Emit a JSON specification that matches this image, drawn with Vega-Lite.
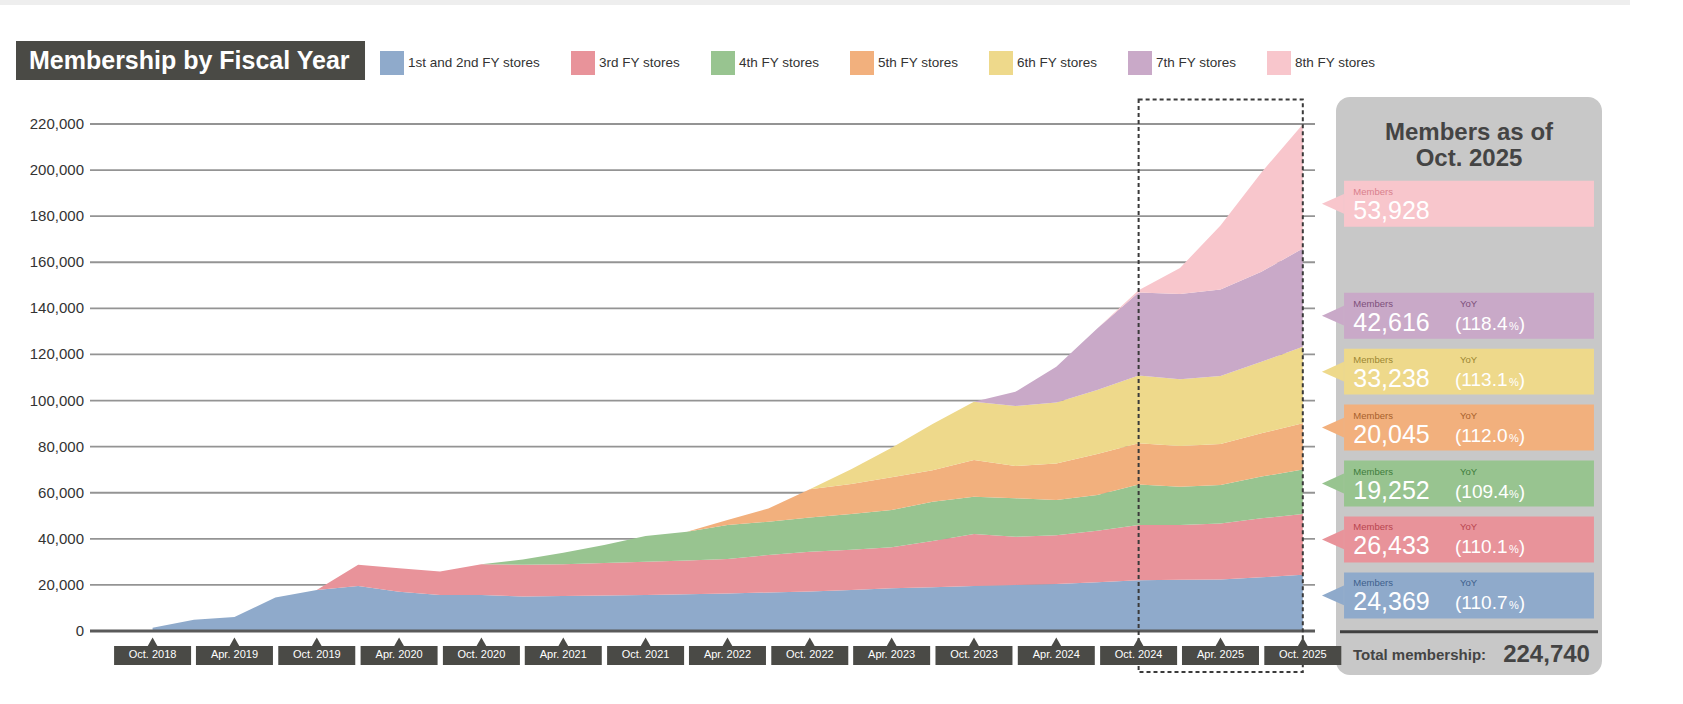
{
  "$schema": "https://vega.github.io/schema/vega-lite/v6.json",
  "width": 1225,
  "height": 507,
  "autosize": {"type": "none"},
  "padding": {"left": 90, "top": 124, "right": 368, "bottom": 73},
  "background": "#ffffff",
  "config": {"view": {"stroke": null}, "font": "Liberation Sans"},
  "datasets": {
    "members": [
      {"series": "1st and 2nd FY stores", "date": "2018-10-01", "members": 1400},
      {"series": "1st and 2nd FY stores", "date": "2019-01-01", "members": 4900},
      {"series": "1st and 2nd FY stores", "date": "2019-04-01", "members": 6100},
      {"series": "1st and 2nd FY stores", "date": "2019-07-01", "members": 14500},
      {"series": "1st and 2nd FY stores", "date": "2019-10-01", "members": 17800},
      {"series": "1st and 2nd FY stores", "date": "2020-01-01", "members": 19500},
      {"series": "1st and 2nd FY stores", "date": "2020-04-01", "members": 17000},
      {"series": "1st and 2nd FY stores", "date": "2020-07-01", "members": 15600},
      {"series": "1st and 2nd FY stores", "date": "2020-10-01", "members": 15600},
      {"series": "1st and 2nd FY stores", "date": "2021-01-01", "members": 15000},
      {"series": "1st and 2nd FY stores", "date": "2021-04-01", "members": 15200},
      {"series": "1st and 2nd FY stores", "date": "2021-07-01", "members": 15400},
      {"series": "1st and 2nd FY stores", "date": "2021-10-01", "members": 15600},
      {"series": "1st and 2nd FY stores", "date": "2022-01-01", "members": 16000},
      {"series": "1st and 2nd FY stores", "date": "2022-04-01", "members": 16300},
      {"series": "1st and 2nd FY stores", "date": "2022-07-01", "members": 16700},
      {"series": "1st and 2nd FY stores", "date": "2022-10-01", "members": 17100},
      {"series": "1st and 2nd FY stores", "date": "2023-01-01", "members": 17800},
      {"series": "1st and 2nd FY stores", "date": "2023-04-01", "members": 18500},
      {"series": "1st and 2nd FY stores", "date": "2023-07-01", "members": 19000},
      {"series": "1st and 2nd FY stores", "date": "2023-10-01", "members": 19500},
      {"series": "1st and 2nd FY stores", "date": "2024-01-01", "members": 20000},
      {"series": "1st and 2nd FY stores", "date": "2024-04-01", "members": 20400},
      {"series": "1st and 2nd FY stores", "date": "2024-07-01", "members": 21200},
      {"series": "1st and 2nd FY stores", "date": "2024-10-01", "members": 22014},
      {"series": "1st and 2nd FY stores", "date": "2025-01-01", "members": 22200},
      {"series": "1st and 2nd FY stores", "date": "2025-04-01", "members": 22400},
      {"series": "1st and 2nd FY stores", "date": "2025-07-01", "members": 23300},
      {"series": "1st and 2nd FY stores", "date": "2025-10-01", "members": 24369},
      {"series": "3rd FY stores", "date": "2019-10-01", "members": 0},
      {"series": "3rd FY stores", "date": "2020-01-01", "members": 9200},
      {"series": "3rd FY stores", "date": "2020-04-01", "members": 10200},
      {"series": "3rd FY stores", "date": "2020-07-01", "members": 10200},
      {"series": "3rd FY stores", "date": "2020-10-01", "members": 13400},
      {"series": "3rd FY stores", "date": "2021-01-01", "members": 13800},
      {"series": "3rd FY stores", "date": "2021-04-01", "members": 13800},
      {"series": "3rd FY stores", "date": "2021-07-01", "members": 14100},
      {"series": "3rd FY stores", "date": "2021-10-01", "members": 14400},
      {"series": "3rd FY stores", "date": "2022-01-01", "members": 14600},
      {"series": "3rd FY stores", "date": "2022-04-01", "members": 14900},
      {"series": "3rd FY stores", "date": "2022-07-01", "members": 16300},
      {"series": "3rd FY stores", "date": "2022-10-01", "members": 17300},
      {"series": "3rd FY stores", "date": "2023-01-01", "members": 17500},
      {"series": "3rd FY stores", "date": "2023-04-01", "members": 17800},
      {"series": "3rd FY stores", "date": "2023-07-01", "members": 20000},
      {"series": "3rd FY stores", "date": "2023-10-01", "members": 22600},
      {"series": "3rd FY stores", "date": "2024-01-01", "members": 20900},
      {"series": "3rd FY stores", "date": "2024-04-01", "members": 21200},
      {"series": "3rd FY stores", "date": "2024-07-01", "members": 22300},
      {"series": "3rd FY stores", "date": "2024-10-01", "members": 24008},
      {"series": "3rd FY stores", "date": "2025-01-01", "members": 23800},
      {"series": "3rd FY stores", "date": "2025-04-01", "members": 24300},
      {"series": "3rd FY stores", "date": "2025-07-01", "members": 25600},
      {"series": "3rd FY stores", "date": "2025-10-01", "members": 26433},
      {"series": "4th FY stores", "date": "2020-10-01", "members": 0},
      {"series": "4th FY stores", "date": "2021-01-01", "members": 2200},
      {"series": "4th FY stores", "date": "2021-04-01", "members": 5000},
      {"series": "4th FY stores", "date": "2021-07-01", "members": 7800},
      {"series": "4th FY stores", "date": "2021-10-01", "members": 11200},
      {"series": "4th FY stores", "date": "2022-01-01", "members": 12500},
      {"series": "4th FY stores", "date": "2022-04-01", "members": 14800},
      {"series": "4th FY stores", "date": "2022-07-01", "members": 14400},
      {"series": "4th FY stores", "date": "2022-10-01", "members": 14900},
      {"series": "4th FY stores", "date": "2023-01-01", "members": 15500},
      {"series": "4th FY stores", "date": "2023-04-01", "members": 16200},
      {"series": "4th FY stores", "date": "2023-07-01", "members": 17100},
      {"series": "4th FY stores", "date": "2023-10-01", "members": 16200},
      {"series": "4th FY stores", "date": "2024-01-01", "members": 16700},
      {"series": "4th FY stores", "date": "2024-04-01", "members": 15200},
      {"series": "4th FY stores", "date": "2024-07-01", "members": 15500},
      {"series": "4th FY stores", "date": "2024-10-01", "members": 17598},
      {"series": "4th FY stores", "date": "2025-01-01", "members": 16600},
      {"series": "4th FY stores", "date": "2025-04-01", "members": 16600},
      {"series": "4th FY stores", "date": "2025-07-01", "members": 18100},
      {"series": "4th FY stores", "date": "2025-10-01", "members": 19252},
      {"series": "5th FY stores", "date": "2022-01-01", "members": 0},
      {"series": "5th FY stores", "date": "2022-04-01", "members": 2200},
      {"series": "5th FY stores", "date": "2022-07-01", "members": 5800},
      {"series": "5th FY stores", "date": "2022-10-01", "members": 12200},
      {"series": "5th FY stores", "date": "2023-01-01", "members": 13000},
      {"series": "5th FY stores", "date": "2023-04-01", "members": 14200},
      {"series": "5th FY stores", "date": "2023-07-01", "members": 13700},
      {"series": "5th FY stores", "date": "2023-10-01", "members": 15900},
      {"series": "5th FY stores", "date": "2024-01-01", "members": 14000},
      {"series": "5th FY stores", "date": "2024-04-01", "members": 15900},
      {"series": "5th FY stores", "date": "2024-07-01", "members": 17800},
      {"series": "5th FY stores", "date": "2024-10-01", "members": 17897},
      {"series": "5th FY stores", "date": "2025-01-01", "members": 17700},
      {"series": "5th FY stores", "date": "2025-04-01", "members": 17800},
      {"series": "5th FY stores", "date": "2025-07-01", "members": 18800},
      {"series": "5th FY stores", "date": "2025-10-01", "members": 20045},
      {"series": "6th FY stores", "date": "2022-10-01", "members": 0},
      {"series": "6th FY stores", "date": "2023-01-01", "members": 6400},
      {"series": "6th FY stores", "date": "2023-04-01", "members": 12800},
      {"series": "6th FY stores", "date": "2023-07-01", "members": 20000},
      {"series": "6th FY stores", "date": "2023-10-01", "members": 25300},
      {"series": "6th FY stores", "date": "2024-01-01", "members": 26000},
      {"series": "6th FY stores", "date": "2024-04-01", "members": 26400},
      {"series": "6th FY stores", "date": "2024-07-01", "members": 27800},
      {"series": "6th FY stores", "date": "2024-10-01", "members": 29388},
      {"series": "6th FY stores", "date": "2025-01-01", "members": 28900},
      {"series": "6th FY stores", "date": "2025-04-01", "members": 29500},
      {"series": "6th FY stores", "date": "2025-07-01", "members": 31000},
      {"series": "6th FY stores", "date": "2025-10-01", "members": 33238},
      {"series": "7th FY stores", "date": "2023-10-01", "members": 0},
      {"series": "7th FY stores", "date": "2024-01-01", "members": 6200},
      {"series": "7th FY stores", "date": "2024-04-01", "members": 15600},
      {"series": "7th FY stores", "date": "2024-07-01", "members": 26700},
      {"series": "7th FY stores", "date": "2024-10-01", "members": 35993},
      {"series": "7th FY stores", "date": "2025-01-01", "members": 37000},
      {"series": "7th FY stores", "date": "2025-04-01", "members": 37600},
      {"series": "7th FY stores", "date": "2025-07-01", "members": 39100},
      {"series": "7th FY stores", "date": "2025-10-01", "members": 42616},
      {"series": "8th FY stores", "date": "2024-10-01", "members": 1000},
      {"series": "8th FY stores", "date": "2025-01-01", "members": 11300},
      {"series": "8th FY stores", "date": "2025-04-01", "members": 27800},
      {"series": "8th FY stores", "date": "2025-07-01", "members": 43100},
      {"series": "8th FY stores", "date": "2025-10-01", "members": 53928}
    ],
    "gridValues": [
      {"v": 0}, {"v": 20000}, {"v": 40000}, {"v": 60000}, {"v": 80000}, {"v": 100000},
      {"v": 120000}, {"v": 140000}, {"v": 160000}, {"v": 180000}, {"v": 200000}, {"v": 220000}
    ],
    "ticks": [
      {"date": "2018-10-01", "label": "Oct. 2018"},
      {"date": "2019-04-01", "label": "Apr. 2019"},
      {"date": "2019-10-01", "label": "Oct. 2019"},
      {"date": "2020-04-01", "label": "Apr. 2020"},
      {"date": "2020-10-01", "label": "Oct. 2020"},
      {"date": "2021-04-01", "label": "Apr. 2021"},
      {"date": "2021-10-01", "label": "Oct. 2021"},
      {"date": "2022-04-01", "label": "Apr. 2022"},
      {"date": "2022-10-01", "label": "Oct. 2022"},
      {"date": "2023-04-01", "label": "Apr. 2023"},
      {"date": "2023-10-01", "label": "Oct. 2023"},
      {"date": "2024-04-01", "label": "Apr. 2024"},
      {"date": "2024-10-01", "label": "Oct. 2024"},
      {"date": "2025-04-01", "label": "Apr. 2025"},
      {"date": "2025-10-01", "label": "Oct. 2025"}
    ],
    "tiles": [
      {"series": "8th FY stores", "members": 53928},
      {"series": "7th FY stores", "members": 42616, "yoy": 118.4},
      {"series": "6th FY stores", "members": 33238, "yoy": 113.1},
      {"series": "5th FY stores", "members": 20045, "yoy": 112.0},
      {"series": "4th FY stores", "members": 19252, "yoy": 109.4},
      {"series": "3rd FY stores", "members": 26433, "yoy": 110.1},
      {"series": "1st and 2nd FY stores", "members": 24369, "yoy": 110.7}
    ]
  },
  "layer": [
    {
      "data": {"values": [{"total": 224740}]},
      "layer": [
        {"mark": {"type": "rect", "color": "#eeeeee"},
         "encoding": {
           "x": {"datum": 0, "type": "quantitative", "scale": {"domain": [0, 100], "range": [-90, 1593], "nice": false, "zero": false}, "axis": null},
           "x2": {"datum": 96.85},
           "y": {"datum": 0, "type": "quantitative", "scale": {"domain": [0, 100], "range": [-124, 580], "nice": false, "zero": false}, "axis": null},
           "y2": {"datum": 0.71}}},
        {"mark": {"type": "rect", "color": "#4a4a45"},
         "encoding": {
           "x": {"datum": 0.951, "type": "quantitative", "scale": {"domain": [0, 100], "range": [-90, 1593], "nice": false, "zero": false}, "axis": null},
           "x2": {"datum": 21.688},
           "y": {"datum": 5.824, "type": "quantitative", "scale": {"domain": [0, 100], "range": [-124, 580], "nice": false, "zero": false}, "axis": null},
           "y2": {"datum": 11.364}}},
        {"mark": {"type": "text", "text": "Membership by Fiscal Year", "align": "left", "baseline": "middle", "fontSize": 25, "fontWeight": "bold", "color": "#ffffff"},
         "encoding": {
           "x": {"datum": 1.723, "type": "quantitative", "scale": {"domain": [0, 100], "range": [-90, 1593], "nice": false, "zero": false}, "axis": null},
           "y": {"datum": 8.594, "type": "quantitative", "scale": {"domain": [0, 100], "range": [-124, 580], "nice": false, "zero": false}, "axis": null}}},
        {"mark": {"type": "rect", "color": "#c8c8c8", "cornerRadius": 14},
         "encoding": {
           "x": {"datum": 79.382, "type": "quantitative", "scale": {"domain": [0, 100], "range": [-90, 1593], "nice": false, "zero": false}, "axis": null},
           "x2": {"datum": 95.187},
           "y": {"datum": 13.778, "type": "quantitative", "scale": {"domain": [0, 100], "range": [-124, 580], "nice": false, "zero": false}, "axis": null},
           "y2": {"datum": 95.881}}},
        {"mark": {"type": "text", "text": "Members as of", "align": "center", "baseline": "middle", "fontSize": 24, "fontWeight": "bold", "color": "#444444"},
         "encoding": {
           "x": {"datum": 87.285, "type": "quantitative", "scale": {"domain": [0, 100], "range": [-90, 1593], "nice": false, "zero": false}, "axis": null},
           "y": {"datum": 18.849, "type": "quantitative", "scale": {"domain": [0, 100], "range": [-124, 580], "nice": false, "zero": false}, "axis": null}}},
        {"mark": {"type": "text", "text": "Oct. 2025", "align": "center", "baseline": "middle", "fontSize": 24, "fontWeight": "bold", "color": "#444444"},
         "encoding": {
           "x": {"datum": 87.285, "type": "quantitative", "scale": {"domain": [0, 100], "range": [-90, 1593], "nice": false, "zero": false}, "axis": null},
           "y": {"datum": 22.628, "type": "quantitative", "scale": {"domain": [0, 100], "range": [-124, 580], "nice": false, "zero": false}, "axis": null}}},
        {"mark": {"type": "rule", "color": "#404040", "strokeWidth": 3},
         "encoding": {
           "x": {"datum": 79.62, "type": "quantitative", "scale": {"domain": [0, 100], "range": [-90, 1593], "nice": false, "zero": false}, "axis": null},
           "x2": {"datum": 94.95},
           "y": {"datum": 89.73, "type": "quantitative", "scale": {"domain": [0, 100], "range": [-124, 580], "nice": false, "zero": false}, "axis": null}}},
        {"mark": {"type": "text", "text": "Total membership:", "align": "left", "baseline": "middle", "fontSize": 15, "fontWeight": "bold", "color": "#444444"},
         "encoding": {
           "x": {"datum": 80.39, "type": "quantitative", "scale": {"domain": [0, 100], "range": [-90, 1593], "nice": false, "zero": false}, "axis": null},
           "y": {"datum": 93.04, "type": "quantitative", "scale": {"domain": [0, 100], "range": [-124, 580], "nice": false, "zero": false}, "axis": null}}},
        {"mark": {"type": "text", "align": "right", "baseline": "middle", "fontSize": 24, "fontWeight": "bold", "color": "#444444"},
         "encoding": {
           "x": {"datum": 94.47, "type": "quantitative", "scale": {"domain": [0, 100], "range": [-90, 1593], "nice": false, "zero": false}, "axis": null},
           "y": {"datum": 93.04, "type": "quantitative", "scale": {"domain": [0, 100], "range": [-124, 580], "nice": false, "zero": false}, "axis": null},
           "text": {"field": "total", "type": "quantitative", "format": ","}}}
      ]
    },
    {
      "layer": [
        {"data": {"name": "gridValues"},
         "mark": {"type": "rule", "color": "#949494", "strokeWidth": 1.8},
         "encoding": {
           "y": {"field": "v", "type": "quantitative", "scale": {"domain": [0, 220000], "nice": false, "zero": false}, "axis": null}}},
        {"data": {"name": "gridValues"},
         "mark": {"type": "text", "align": "right", "baseline": "middle", "dx": -11, "fontSize": 15, "color": "#333333"},
         "encoding": {
           "x": {"datum": {"year": 2018, "month": 5, "date": 26, "utc": true}, "type": "temporal", "scale": {"domain": [{"year": 2018, "month": 5, "date": 26, "utc": true}, {"year": 2025, "month": 10, "date": 17, "utc": true}], "nice": false}, "axis": null},
           "y": {"field": "v", "type": "quantitative", "scale": {"domain": [0, 220000], "nice": false, "zero": false}, "axis": null},
           "text": {"field": "v", "type": "quantitative", "format": ",d"}}},
        {"data": {"name": "members"},
         "mark": {"type": "area", "interpolate": "linear", "opacity": 1},
         "encoding": {
           "x": {"field": "date", "type": "temporal", "scale": {"domain": [{"year": 2018, "month": 5, "date": 26, "utc": true}, {"year": 2025, "month": 10, "date": 17, "utc": true}], "nice": false}, "axis": null},
           "y": {"field": "members", "type": "quantitative", "stack": "zero", "scale": {"domain": [0, 220000], "nice": false, "zero": false}, "axis": null},
           "color": {"field": "series", "type": "nominal",
                     "scale": {"domain": ["1st and 2nd FY stores", "3rd FY stores", "4th FY stores", "5th FY stores", "6th FY stores", "7th FY stores", "8th FY stores"],
                               "range": ["#8faacb", "#e8939a", "#98c490", "#f2b07d", "#eed98b", "#c9a9c8", "#f8c6cc"]},
                     "legend": {"title": null, "orient": "none", "legendX": 290, "legendY": -73, "direction": "horizontal", "columns": 7, "symbolType": "square", "symbolSize": 576, "symbolStrokeWidth": 0, "symbolOpacity": 1, "labelFontSize": 13.5, "labelColor": "#333333", "labelOffset": 4, "columnPadding": 30, "padding": 0}},
           "order": {"field": "series", "sort": "ascending"}
         }},
        {"data": {"values": [{}]},
         "mark": {"type": "rule", "color": "#5a5a5a", "strokeWidth": 3},
         "encoding": {
           "y": {"datum": 0, "type": "quantitative", "scale": {"domain": [0, 220000], "nice": false, "zero": false}, "axis": null}}},
        {"data": {"values": [{"start": "2024-10-01", "end": "2025-10-01"}]},
         "mark": {"type": "rect", "filled": false, "stroke": "#3a3a3a", "strokeWidth": 2, "strokeDash": [4, 3]},
         "encoding": {
           "x": {"field": "start", "type": "temporal", "scale": {"domain": [{"year": 2018, "month": 5, "date": 26, "utc": true}, {"year": 2025, "month": 10, "date": 17, "utc": true}], "nice": false}, "axis": null},
           "x2": {"field": "end"},
           "y": {"datum": 230634, "type": "quantitative", "scale": {"domain": [0, 220000], "nice": false, "zero": false}, "axis": null},
           "y2": {"datum": -17791}}},
        {"data": {"name": "ticks"},
         "mark": {"type": "bar", "width": 77, "color": "#4a4a46"},
         "encoding": {
           "x": {"field": "date", "type": "temporal", "scale": {"domain": [{"year": 2018, "month": 5, "date": 26, "utc": true}, {"year": 2025, "month": 10, "date": 17, "utc": true}], "nice": false}, "axis": null},
           "y": {"datum": -6509, "type": "quantitative", "scale": {"domain": [0, 220000], "nice": false, "zero": false}, "axis": null},
           "y2": {"datum": -14754}}},
        {"data": {"name": "ticks"},
         "mark": {"type": "point", "shape": "triangle-up", "size": 130, "filled": true, "color": "#4a4a46", "opacity": 1, "strokeWidth": 0},
         "encoding": {
           "x": {"field": "date", "type": "temporal", "scale": {"domain": [{"year": 2018, "month": 5, "date": 26, "utc": true}, {"year": 2025, "month": 10, "date": 17, "utc": true}], "nice": false}, "axis": null},
           "y": {"datum": -4990, "type": "quantitative", "scale": {"domain": [0, 220000], "nice": false, "zero": false}, "axis": null}}},
        {"data": {"name": "ticks"},
         "mark": {"type": "text", "color": "#ffffff", "fontSize": 11, "align": "center", "baseline": "middle"},
         "encoding": {
           "x": {"field": "date", "type": "temporal", "scale": {"domain": [{"year": 2018, "month": 5, "date": 26, "utc": true}, {"year": 2025, "month": 10, "date": 17, "utc": true}], "nice": false}, "axis": null},
           "y": {"datum": -10631, "type": "quantitative", "scale": {"domain": [0, 220000], "nice": false, "zero": false}, "axis": null},
           "text": {"field": "label", "type": "nominal"}}}
      ]
    },
    {
      "data": {"name": "tiles"},
      "layer": [
        {"mark": {"type": "rect"},
         "encoding": {
           "x": {"datum": 79.86, "type": "quantitative", "scale": {"domain": [0, 100], "range": [-90, 1593], "nice": false, "zero": false}, "axis": null},
           "x2": {"datum": 94.71},
           "y": {"field": "series", "type": "nominal", "scale": {"domain": ["8th FY stores", " ", "7th FY stores", "6th FY stores", "5th FY stores", "4th FY stores", "3rd FY stores", "1st and 2nd FY stores"], "range": [56.8, 494.4], "paddingInner": 0.178, "paddingOuter": 0}, "axis": null},
           "color": {"field": "series", "type": "nominal", "scale": {"domain": ["1st and 2nd FY stores", "3rd FY stores", "4th FY stores", "5th FY stores", "6th FY stores", "7th FY stores", "8th FY stores"], "range": ["#8faacb", "#e8939a", "#98c490", "#f2b07d", "#eed98b", "#c9a9c8", "#f8c6cc"]}, "legend": null}}},
        {"mark": {"type": "point", "shape": "M-1,0L1,-0.9L1,0.9Z", "size": 484, "filled": true, "opacity": 1, "strokeWidth": 0},
         "encoding": {
           "x": {"datum": 79.2, "type": "quantitative", "scale": {"domain": [0, 100], "range": [-90, 1593], "nice": false, "zero": false}, "axis": null},
           "y": {"field": "series", "type": "nominal", "scale": {"domain": ["8th FY stores", " ", "7th FY stores", "6th FY stores", "5th FY stores", "4th FY stores", "3rd FY stores", "1st and 2nd FY stores"], "range": [56.8, 494.4], "paddingInner": 0.178, "paddingOuter": 0}, "axis": null},
           "color": {"field": "series", "type": "nominal", "scale": {"domain": ["1st and 2nd FY stores", "3rd FY stores", "4th FY stores", "5th FY stores", "6th FY stores", "7th FY stores", "8th FY stores"], "range": ["#8faacb", "#e8939a", "#98c490", "#f2b07d", "#eed98b", "#c9a9c8", "#f8c6cc"]}, "legend": null}}},
        {"mark": {"type": "text", "text": "Members", "align": "left", "baseline": "middle", "fontSize": 9.5, "dy": -12},
         "encoding": {
           "x": {"datum": 80.41, "type": "quantitative", "scale": {"domain": [0, 100], "range": [-90, 1593], "nice": false, "zero": false}, "axis": null},
           "y": {"field": "series", "type": "nominal", "scale": {"domain": ["8th FY stores", " ", "7th FY stores", "6th FY stores", "5th FY stores", "4th FY stores", "3rd FY stores", "1st and 2nd FY stores"], "range": [56.8, 494.4], "paddingInner": 0.178, "paddingOuter": 0}, "axis": null},
           "fill": {"field": "series", "type": "nominal", "scale": {"domain": ["1st and 2nd FY stores", "3rd FY stores", "4th FY stores", "5th FY stores", "6th FY stores", "7th FY stores", "8th FY stores"], "range": ["#3e5f8c", "#b8454f", "#3f7c3c", "#a8602c", "#9c8632", "#7d4f7b", "#d9808c"]}, "legend": null}}},
        {"mark": {"type": "text", "align": "left", "baseline": "alphabetic", "fontSize": 25, "dy": 15, "color": "#ffffff"},
         "encoding": {
           "x": {"datum": 80.41, "type": "quantitative", "scale": {"domain": [0, 100], "range": [-90, 1593], "nice": false, "zero": false}, "axis": null},
           "y": {"field": "series", "type": "nominal", "scale": {"domain": ["8th FY stores", " ", "7th FY stores", "6th FY stores", "5th FY stores", "4th FY stores", "3rd FY stores", "1st and 2nd FY stores"], "range": [56.8, 494.4], "paddingInner": 0.178, "paddingOuter": 0}, "axis": null},
           "text": {"field": "members", "type": "quantitative", "format": ","}}},
        {"transform": [{"filter": "isValid(datum.yoy)"}],
         "mark": {"type": "text", "text": "YoY", "align": "left", "baseline": "middle", "fontSize": 9.5, "dy": -12},
         "encoding": {
           "x": {"datum": 86.75, "type": "quantitative", "scale": {"domain": [0, 100], "range": [-90, 1593], "nice": false, "zero": false}, "axis": null},
           "y": {"field": "series", "type": "nominal", "scale": {"domain": ["8th FY stores", " ", "7th FY stores", "6th FY stores", "5th FY stores", "4th FY stores", "3rd FY stores", "1st and 2nd FY stores"], "range": [56.8, 494.4], "paddingInner": 0.178, "paddingOuter": 0}, "axis": null},
           "fill": {"field": "series", "type": "nominal", "scale": {"domain": ["1st and 2nd FY stores", "3rd FY stores", "4th FY stores", "5th FY stores", "6th FY stores", "7th FY stores", "8th FY stores"], "range": ["#3e5f8c", "#b8454f", "#3f7c3c", "#a8602c", "#9c8632", "#7d4f7b", "#d9808c"]}, "legend": null}}},
        {"transform": [{"filter": "isValid(datum.yoy)"}],
         "mark": {"type": "text", "text": "(", "align": "left", "baseline": "alphabetic", "fontSize": 19, "dy": 14, "color": "#ffffff"},
         "encoding": {
           "x": {"datum": 86.45, "type": "quantitative", "scale": {"domain": [0, 100], "range": [-90, 1593], "nice": false, "zero": false}, "axis": null},
           "y": {"field": "series", "type": "nominal", "scale": {"domain": ["8th FY stores", " ", "7th FY stores", "6th FY stores", "5th FY stores", "4th FY stores", "3rd FY stores", "1st and 2nd FY stores"], "range": [56.8, 494.4], "paddingInner": 0.178, "paddingOuter": 0}, "axis": null}}},
        {"transform": [{"filter": "isValid(datum.yoy)"}],
         "mark": {"type": "text", "align": "left", "baseline": "alphabetic", "fontSize": 19, "dy": 14, "color": "#ffffff"},
         "encoding": {
           "x": {"datum": 86.83, "type": "quantitative", "scale": {"domain": [0, 100], "range": [-90, 1593], "nice": false, "zero": false}, "axis": null},
           "y": {"field": "series", "type": "nominal", "scale": {"domain": ["8th FY stores", " ", "7th FY stores", "6th FY stores", "5th FY stores", "4th FY stores", "3rd FY stores", "1st and 2nd FY stores"], "range": [56.8, 494.4], "paddingInner": 0.178, "paddingOuter": 0}, "axis": null},
           "text": {"field": "yoy", "type": "quantitative", "format": ".1f"}}},
        {"transform": [{"filter": "isValid(datum.yoy)"}],
         "mark": {"type": "text", "text": "%", "align": "left", "baseline": "alphabetic", "fontSize": 11, "dy": 14, "color": "#ffffff"},
         "encoding": {
           "x": {"datum": 89.66, "type": "quantitative", "scale": {"domain": [0, 100], "range": [-90, 1593], "nice": false, "zero": false}, "axis": null},
           "y": {"field": "series", "type": "nominal", "scale": {"domain": ["8th FY stores", " ", "7th FY stores", "6th FY stores", "5th FY stores", "4th FY stores", "3rd FY stores", "1st and 2nd FY stores"], "range": [56.8, 494.4], "paddingInner": 0.178, "paddingOuter": 0}, "axis": null}}},
        {"transform": [{"filter": "isValid(datum.yoy)"}],
         "mark": {"type": "text", "text": ")", "align": "left", "baseline": "alphabetic", "fontSize": 19, "dy": 14, "color": "#ffffff"},
         "encoding": {
           "x": {"datum": 90.24, "type": "quantitative", "scale": {"domain": [0, 100], "range": [-90, 1593], "nice": false, "zero": false}, "axis": null},
           "y": {"field": "series", "type": "nominal", "scale": {"domain": ["8th FY stores", " ", "7th FY stores", "6th FY stores", "5th FY stores", "4th FY stores", "3rd FY stores", "1st and 2nd FY stores"], "range": [56.8, 494.4], "paddingInner": 0.178, "paddingOuter": 0}, "axis": null}}}
      ]
    }
  ],
  "resolve": {"scale": {"x": "independent", "y": "independent", "color": "independent"}}
}
